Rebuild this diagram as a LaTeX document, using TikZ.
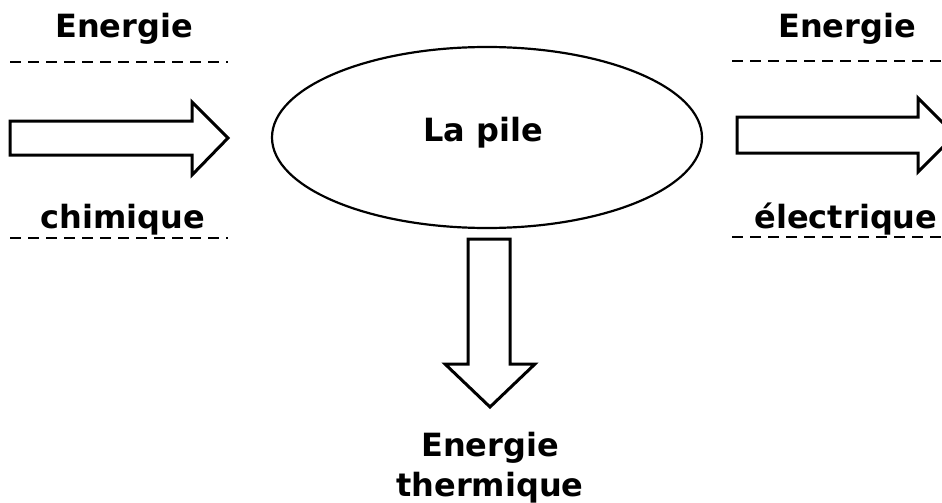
\documentclass[tikz,border=0pt]{standalone}
\usepackage{fontspec}
\setmainfont{DejaVu Sans}
\usetikzlibrary{shapes.geometric}
\begin{document}
\begin{tikzpicture}[x=1pt,y=-1pt,
  lbl/.style={font=\fontsize{32}{40}\selectfont\bfseries, inner sep=0pt, anchor=base},
  blockarrow/.style={draw=black, line width=3pt, fill=white, line join=miter},
  dashline/.style={draw=black, line width=1.4pt, dash pattern=on 11pt off 7pt}]
\useasboundingbox (0,0) rectangle (942,503);
\begin{scope}
\clip (0,0) rectangle (942,503);
% ellipse
\node[ellipse, draw, line width=2.2pt, minimum width=430pt, minimum height=181pt, inner sep=0pt] (pile) at (487,137.5) {};
\node[lbl] (pilet) at (483,141) {La pile};
% left
\node[lbl] (e1) at (124,38) {Energie};
\node[lbl] (c1) at (123,228) {chimique};
\coordinate (d1a) at (10,62); \coordinate (d1b) at (228,62);
\coordinate (d2a) at (10,238); \coordinate (d2b) at (228,238);
\draw[dashline] (d1a) -- (d1b);
\draw[dashline] (d2a) -- (d2b);
\draw[blockarrow] (10,121) -- (192,121) -- (192,102) -- (228,138) -- (192,175) -- (192,155) -- (10,155) -- cycle;
% right
\node[lbl] (e2) at (847,38) {Energie};
\node[lbl] (c2) at (846,228) {électrique};
\coordinate (d3a) at (732,61); \coordinate (d3b) at (950,61);
\coordinate (d4a) at (732,237); \coordinate (d4b) at (950,237);
\draw[dashline] (d3a) -- (d3b);
\draw[dashline] (d4a) -- (d4b);
\draw[blockarrow] (737,117) -- (918,117) -- (918,98) -- (955,135) -- (918,172) -- (918,153) -- (737,153) -- cycle;
% down
\draw[blockarrow] (468,239) -- (510,239) -- (510,364) -- (535,364) -- (490,407) -- (445,364) -- (468,364) -- cycle;
\node[lbl] (e3) at (490,456) {Energie};
\node[lbl] (t3) at (490,496) {thermique};
\end{scope}
\end{tikzpicture}
\end{document}
